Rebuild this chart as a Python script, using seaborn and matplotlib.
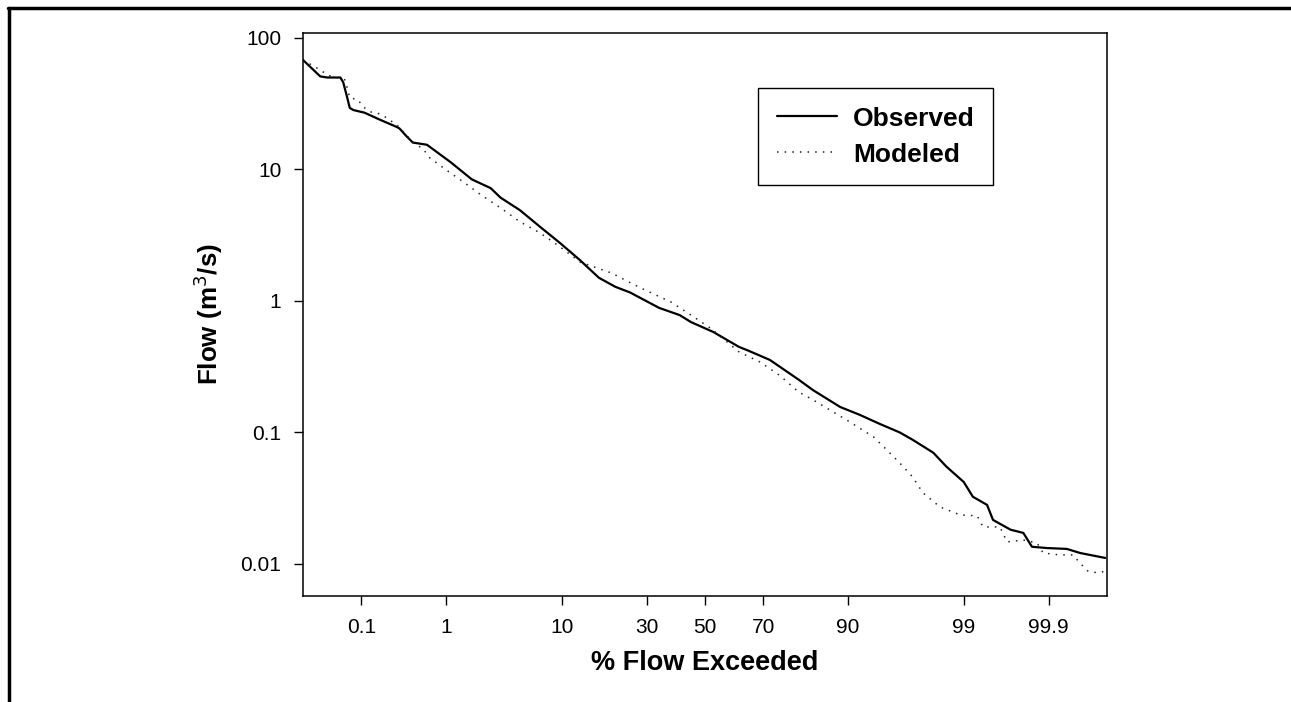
from statistics import NormalDist

import matplotlib
matplotlib.use("Agg")
import matplotlib.pyplot as plt
import numpy as np
import pandas as pd
import seaborn as sns
from matplotlib.lines import Line2D

# flow duration curves
OBS_PCT = [0.015, 0.027, 0.034, 0.052, 0.057, 0.064, 0.070, 0.078, 0.11, 0.17,
           0.28, 0.30, 0.36, 0.43, 0.62, 1.1, 1.8, 2.7, 3.3, 4.8, 6.9, 9.6, 13,
           17, 21, 25, 34, 41, 45, 53, 62, 65, 72, 75, 80, 83.4, 88.8, 91.8,
           94.2, 96.0, 96.9, 98.0, 98.5, 99.0, 99.2, 99.44, 99.52, 99.70, 99.79,
           99.836, 99.895, 99.943, 99.963, 99.984]
OBS_FLOW = [68, 51, 50, 50, 46, 36, 29.4, 28.3, 27, 24,
            21, 20.5, 18, 16, 15.4, 11.4, 8.4, 7.2, 6.1, 4.9, 3.66, 2.76, 2.05,
            1.5, 1.28, 1.16, 0.885, 0.78, 0.69, 0.58, 0.447, 0.42, 0.356, 0.315,
            0.252, 0.21, 0.156, 0.136, 0.116, 0.10, 0.088, 0.070, 0.055, 0.042,
            0.0324, 0.0281, 0.0216, 0.0182, 0.0172, 0.0135, 0.0132, 0.0130,
            0.0121, 0.0111]

MOD_PCT = [0.015, 0.027, 0.035, 0.060, 0.066, 0.070, 0.090, 0.105, 0.13, 0.16,
           0.20, 0.28, 0.46, 0.55, 0.67, 1.0, 1.4, 2.2, 3.3, 4.8, 6.9, 9.6, 13,
           20, 28, 38, 45, 52, 62, 69, 75, 80, 83.4, 89.9, 93.5, 94.9, 96.0,
           96.9, 97.5, 98.27, 98.91, 99.28, 99.38, 99.60, 99.67, 99.79, 99.859,
           99.882, 99.929, 99.953, 99.965, 99.971, 99.979, 99.985]
MOD_FLOW = [68, 57, 52, 48, 40, 35, 34, 30, 27.4, 26.9,
            25.1, 21.8, 15.4, 14.6, 12.2, 9.9, 8.3, 6.4, 5.1, 4.0, 3.29, 2.58,
            1.98, 1.63, 1.26, 0.98, 0.78, 0.62, 0.41, 0.343, 0.27, 0.203, 0.177,
            0.124, 0.0925, 0.0736, 0.0586, 0.0459, 0.0347, 0.0271, 0.0236,
            0.0232, 0.0191, 0.0191, 0.0147, 0.0152, 0.0144, 0.0121, 0.0117,
            0.0117, 0.0098, 0.00885, 0.00855, 0.00885]

X_TICKS = [0.1, 1, 10, 30, 50, 70, 90, 99, 99.9]
X_LABELS = ["0.1", "1", "10", "30", "50", "70", "90", "99", "99.9"]
Y_TICKS = [0.01, 0.1, 1, 10, 100]
Y_LABELS = ["0.01", "0.1", "1", "10", "100"]

_nd = NormalDist()
_ppf = np.vectorize(lambda p: _nd.inv_cdf(min(max(p, 1e-12), 1 - 1e-12)), otypes=[float])
_cdf = np.vectorize(_nd.cdf, otypes=[float])


def prob_fwd(x):
    return _ppf(np.asarray(x, dtype=float) / 100.0)


def prob_inv(z):
    return _cdf(np.asarray(z, dtype=float)) * 100.0


sns.set_theme(style="white")
plt.rcParams["font.family"] = ["Liberation Sans", "DejaVu Sans"]
plt.rcParams.update({"text.color": "black", "axes.labelcolor": "black",
                     "xtick.color": "black", "ytick.color": "black"})

df = pd.concat([
    pd.DataFrame({"pct": OBS_PCT, "flow": OBS_FLOW, "series": "Observed"}),
    pd.DataFrame({"pct": MOD_PCT, "flow": MOD_FLOW, "series": "Modeled"}),
])

fig = plt.figure(figsize=(12.91, 7.02), dpi=100)
ax = fig.add_axes([303 / 1291, 1 - 596 / 702, 804 / 1291, 563 / 702])

sns.lineplot(data=df, x="pct", y="flow", hue="series", style="series", size="series",
             palette={"Observed": "black", "Modeled": "#222222"},
             dashes={"Observed": "", "Modeled": (1, 4)},
             sizes={"Observed": 1.6, "Modeled": 1.1},
             sort=False, estimator=None, ax=ax)

ax.set_xscale("function", functions=(prob_fwd, prob_inv))
ax.set_yscale("log")
ax.set_xlim(float(prob_inv(-3.615)), float(prob_inv(3.615)))
ax.set_ylim(0.0057, 109)
ax.set_xticks(X_TICKS, X_LABELS)
ax.set_yticks(Y_TICKS, Y_LABELS)
ax.minorticks_off()
ax.tick_params(axis="both", which="major", direction="out", length=6.5, width=1,
               color="black", labelcolor="black", labelsize=15, pad=9,
               bottom=True, left=True)
for s in ax.spines.values():
    s.set_color("black")
    s.set_linewidth(1.1)

ax.set_xlabel("% Flow Exceeded", fontsize=19.5, fontweight="bold", labelpad=10)
ax.set_ylabel("Flow (m$^3$/s)", fontsize=18.7, fontweight="bold", labelpad=11)

handles, labels = ax.get_legend_handles_labels()
leg = ax.legend(handles, labels, loc="upper left", bbox_to_anchor=(0.566, 0.902),
                prop={"weight": "bold", "size": 19},
                frameon=True, fancybox=False, edgecolor="black", framealpha=1,
                handlelength=2.3, handletextpad=0.6, labelspacing=0.45,
                borderpad=0.7, borderaxespad=0)
leg.get_frame().set_linewidth(1.0)

# outer frame of the original figure (top and left edges only)
fig.add_artist(Line2D([9 / 1291, 9 / 1291], [0, 1 - 8 / 702], color="black", lw=2.5,
                      transform=fig.transFigure))
fig.add_artist(Line2D([8 / 1291, 1], [1 - 8 / 702, 1 - 8 / 702], color="black", lw=2.5,
                      transform=fig.transFigure))

fig.savefig("out.png", dpi=100)
